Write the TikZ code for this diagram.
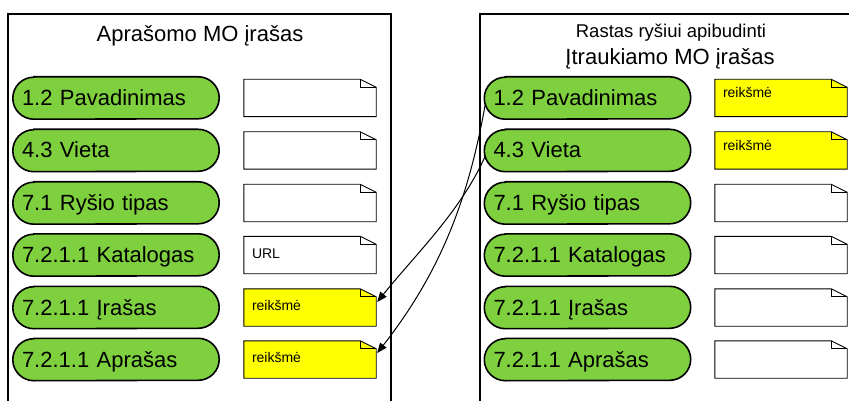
\documentclass[tikz,border=0pt]{standalone}
\usepackage{fontspec}
\setmainfont{Liberation Sans}
\usetikzlibrary{arrows.meta,backgrounds}
\definecolor{pillgreen}{RGB}{126,208,62}
\definecolor{noteyellow}{RGB}{255,255,0}
\begin{document}
\begin{tikzpicture}[x=1pt,y=-1pt,
  pill/.style={minimum height=42pt, inner xsep=9pt, inner ysep=0pt, text width=188pt, align=left,
    text height=15pt, text depth=0pt, font=\fontsize{22}{26}\selectfont},
  pillpath/.style={draw=black, line width=1.6pt, fill=pillgreen},
  notel/.style={minimum width=132pt, minimum height=37pt, inner xsep=8pt, inner ysep=0pt,
    text width=116pt, align=left, text height=10pt, text depth=4pt,
    font=\fontsize{14}{16}\selectfont},
  noter/.style={notel, text height=7pt, text depth=7pt},
  frameline/.style={line width=1.8pt},
  notepath/.style={draw=black, line width=0.9pt},
  link/.style={line width=1pt, -{Triangle[length=10pt,width=8pt]}},
  bigtitle/.style={anchor=base, font=\fontsize{22}{26}\selectfont},
  smalltitle/.style={anchor=base, font=\fontsize{18.5}{22}\selectfont}
  ]
\useasboundingbox (0,0) rectangle (849,401);

% titles
\node[bigtitle] (tl) at (200,42) {Aprašomo MO įrašas};
\node[smalltitle] (tr1) at (671,38) {Rastas ryšiui apibudinti};
\node[bigtitle] (tr2) at (670,65) {Įtraukiamo MO įrašas};

% left pills
\node[pill] (pl1) at (116,98) {1.2 Pavadinimas};
\node[pill] (pl2) at (116,150.5) {4.3 Vieta};
\node[pill] (pl3) at (116,203) {7.1 Ryšio tipas};
\node[pill] (pl4) at (116,255) {7.2.1.1 Katalogas};
\node[pill] (pl5) at (116,307.5) {7.2.1.1 Įrašas};
\node[pill] (pl6) at (116,359.5) {7.2.1.1 Aprašas};

% right pills
\node[pill] (pr1) at (587.5,98) {1.2 Pavadinimas};
\node[pill] (pr2) at (587.5,150.5) {4.3 Vieta};
\node[pill] (pr3) at (587.5,203) {7.1 Ryšio tipas};
\node[pill] (pr4) at (587.5,255) {7.2.1.1 Katalogas};
\node[pill] (pr5) at (587.5,307.5) {7.2.1.1 Įrašas};
\node[pill] (pr6) at (587.5,359.5) {7.2.1.1 Aprašas};

% left notes
\node[notel] (nl1) at (310,98) {};
\node[notel] (nl2) at (310,150.5) {};
\node[notel] (nl3) at (310,203) {};
\node[notel] (nl4) at (310,255) {URL};
\node[notel] (nl5) at (310,307.5) {reikšmė};
\node[notel] (nl6) at (310,359.5) {reikšmė};

% right notes
\node[noter] (nr1) at (781,98) {reikšmė};
\node[noter] (nr2) at (781,150.5) {reikšmė};
\node[noter] (nr3) at (781,203) {};
\node[noter] (nr4) at (781,255) {};
\node[noter] (nr5) at (781,307.5) {};
\node[noter] (nr6) at (781,359.5) {};

\begin{scope}[on background layer]
\fill[white] (0,0) rectangle (849,401);
% frames
\draw[frameline] (8,402) -- (8,14) -- (391,14) -- (391,402);
\draw[frameline] (480,402) -- (480,14) -- (852,14);
\foreach \n in {pl1,pl2,pl3,pl4,pl5,pl6,pr1,pr2,pr3,pr4,pr5,pr6}{
  \draw[pillpath] ([xshift=21pt]\n.north west) -- ([xshift=-21pt]\n.north east)
     arc[start angle=90, end angle=-90, radius=21pt]
     -- ([xshift=21pt]\n.south west)
     arc[start angle=270, end angle=90, radius=21pt] -- cycle;
}
\foreach \n/\c in {nl1/white,nl2/white,nl3/white,nl4/white,nl5/noteyellow,nl6/noteyellow,
                   nr1/noteyellow,nr2/noteyellow,nr3/white,nr4/white,nr5/white,nr6/white}{
  \draw[notepath, fill=\c, line join=miter] (\n.north west) -- ([xshift=-16pt]\n.north east)
     -- ([yshift=-8pt]\n.north east) -- (\n.south east) -- (\n.south west) -- cycle;
  \draw[notepath] ([xshift=-16pt]\n.north east) |- ([yshift=-8pt]\n.north east);
}
\end{scope}

% connectors
\draw[link] ([shift={(1pt,-6pt)}]pr1.west) .. controls (468,202) and (439,274) .. ([shift={(1pt,6.5pt)}]nl6.east);
\draw[link] ([shift={(1pt,-5.5pt)}]pr2.west) .. controls (461,211) and (415,255) .. ([shift={(1pt,5.5pt)}]nl5.east);
\end{tikzpicture}
\end{document}
